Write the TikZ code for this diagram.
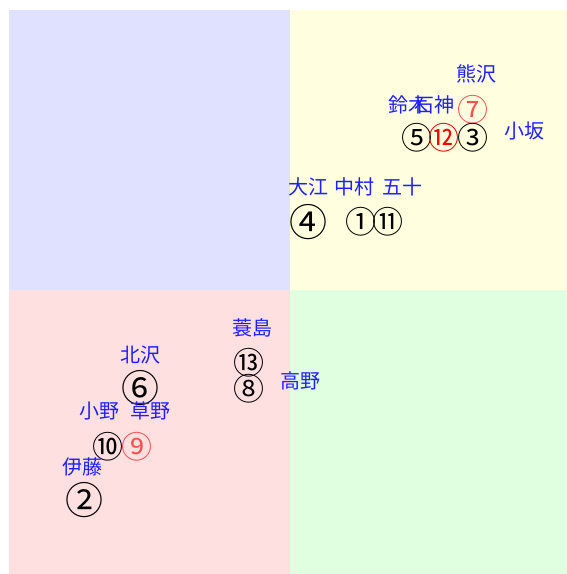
\documentclass[tikz,border=0pt]{standalone}
\usepackage{fontspec}
\newfontfamily\jp{Noto Sans CJK JP}
\definecolor{qblue}{HTML}{E0E0FF}
\definecolor{qyellow}{HTML}{FFFFE0}
\definecolor{qpink}{HTML}{FFE0E0}
\definecolor{qgreen}{HTML}{E0FFE0}
\definecolor{lblue}{HTML}{2020FF}
\definecolor{lred}{HTML}{FF5050}
\tikzset{
  lbl/.style={inner sep=0pt, text=lblue, font=\jp\fontsize{20}{20}\selectfont},
  num/.style={inner sep=0pt, text=black, font=\jp\fontsize{31}{31}\selectfont},
  bignum/.style={inner sep=0pt, text=black, font=\jp\fontsize{38}{38}\selectfont},
  rednum/.style={num, text=red},
  lrednum/.style={num, text=lred}
}
\begin{document}
\begin{tikzpicture}[x=1pt,y=-1pt]
\useasboundingbox (0,0) rectangle (567,574);
\fill[qblue] (9,10) rectangle (290,290);
\fill[qyellow] (290,10) rectangle (567,290);
\fill[qpink] (9,290) rectangle (290,574);
\fill[qgreen] (290,290) rectangle (567,574);
% top right
\node[lbl] (kumazawa) at (476,74) {熊沢};
\node[lbl] (suzuki) at (408,105) {鈴木};
\node[lbl] (ishigami) at (434,105) {石神};
\node[lrednum] (n7) at (473,110) {⑦};
\node[num] (n5) at (417,138) {⑤};
\node[rednum] (n12) at (444,138) {⑫};
\node[num] (n3) at (473,138) {③};
\node[lbl] (kosaka) at (524,131) {小坂};
\node[lbl] (ooe) at (308,187) {大江};
\node[lbl] (nakamura) at (354,187) {中村};
\node[lbl] (isoda) at (402,187) {五十};
\node[bignum] (n4) at (308,222) {④};
\node[num] (n1) at (361,222) {①};
\node[num] (n11) at (388,222) {⑪};
% bottom left
\node[lbl] (minoshima) at (252,328) {蓑島};
\node[num] (n13) at (249,363) {⑬};
\node[num] (n8) at (249,389) {⑧};
\node[lbl] (takano) at (300,381) {高野};
\node[lbl] (kitazawa) at (140,355) {北沢};
\node[bignum] (n6) at (140,388) {⑥};
\node[lbl] (ono) at (99,411) {小野};
\node[lbl] (kusano) at (150,411) {草野};
\node[num] (n10) at (108,447) {⑩};
\node[lrednum] (n9) at (137,447) {⑨};
\node[lbl] (itou) at (83,467) {伊藤};
\node[bignum] (n2) at (84,500) {②};
\end{tikzpicture}
\end{document}
